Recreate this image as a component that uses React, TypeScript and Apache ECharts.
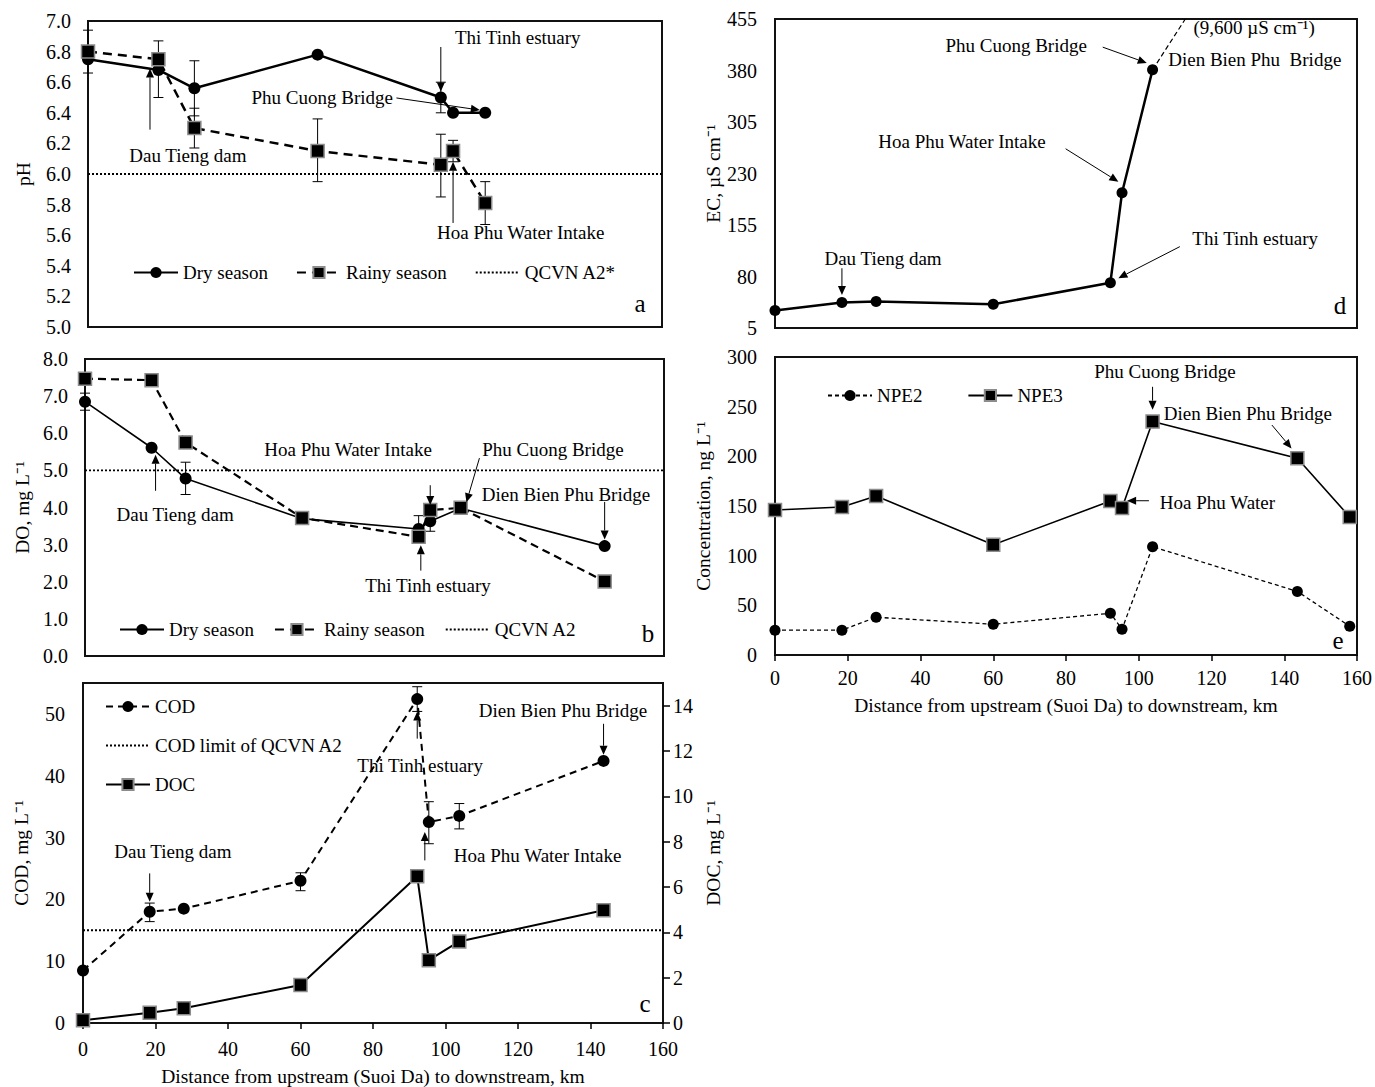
import React, { useEffect, useRef } from "react";
import * as echarts from "echarts";

const FONT = '"Liberation Serif", "Times New Roman", serif';

// ---------- data ----------
const distA = [0, 18.4, 27.8, 60, 92.2, 95.4, 103.8];
const distB = [0, 18.4, 27.8, 60, 92.2, 95.4, 103.8, 143.6];
const distE = [0, 18.4, 27.8, 60, 92.2, 95.4, 103.8, 143.6, 158];

const phDry = [6.75, 6.68, 6.56, 6.78, 6.5, 6.4, 6.4];
const phRainy = [6.8, 6.75, 6.3, 6.15, 6.06, 6.15, 5.81];
const phLimit = 6.0;
const phErr = [
  [0, 6.66, 6.94],
  [18.4, 6.5, 6.87],
  [27.8, 6.38, 6.74],
  [27.8, 6.17, 6.43],
  [60, 5.95, 6.36],
  [92.2, 6.4, 6.6],
  [92.2, 5.85, 6.26],
  [95.4, 6.08, 6.22],
  [103.8, 5.67, 5.95],
];

const doDry = [6.85, 5.61, 4.78, 3.7, 3.42, 3.63, 3.98, 2.96];
const doRainy = [7.47, 7.43, 5.75, 3.72, 3.21, 3.93, 3.99, 2.01];
const doLimit = 5.0;
const doErr = [
  [0, 6.62, 7.08],
  [27.8, 4.35, 5.22],
  [27.8, 5.6, 5.92],
  [60, 3.6, 3.82],
  [92.2, 3.3, 3.78],
  [95.4, 3.36, 3.86],
];

const cod = [8.5, 18.0, 18.5, 23.0, 52.4, 32.5, 33.5, 42.4];
const doc = [0.12, 0.45, 0.65, 1.68, 6.47, 2.77, 3.6, 4.97];
const codLimit = 15;
const codErr = [
  [18.4, 16.4, 19.4],
  [60, 21.4, 24.3],
  [92.2, 50.4, 54.4],
  [95.4, 29.0, 35.8],
  [103.8, 31.4, 35.5],
];

const ec = [30.6, 42, 43.5, 39.5, 71, 202, 381];
const ecExtX = [103.8, 112.8];
const ecExtY = [381, 455];

const npe2 = [25, 25, 38, 31, 42, 26, 109, 64, 29];
const npe3 = [146, 149, 160, 111, 155, 148, 235, 198, 139];

const phTicks = [5.0, 5.2, 5.4, 5.6, 5.8, 6.0, 6.2, 6.4, 6.6, 6.8, 7.0];
const doTicks = [0, 1, 2, 3, 4, 5, 6, 7, 8];
const codTicks = [0, 10, 20, 30, 40, 50];
const docTicks = [0, 2, 4, 6, 8, 10, 12, 14];
const ecTicks = [5, 80, 155, 230, 305, 380, 455];
const npeTicks = [0, 50, 100, 150, 200, 250, 300];

const xTitle = "Distance from upstream (Suoi Da) to downstream, km";

// annotations: [xAxisIndex, yAxisIndex], text anchor in data coords, arrow in data coords
const annotations = [
  { ax: [0, 0], text: "Thi Tinh estuary", at: [95.9, 6.895], align: "left", arrow: [[92.2, 6.83], [92.2, 6.54]] },
  { ax: [0, 0], text: "Phu Cuong Bridge", at: [79.7, 6.503], align: "right", arrow: [[80.6, 6.497], [102.4, 6.418]] },
  { ax: [0, 0], text: "Dau Tieng dam", at: [26.1, 6.12], align: "center", arrow: [[16.2, 6.29], [16.2, 6.69]] },
  { ax: [0, 0], text: "Hoa Phu Water Intake", at: [91.2, 5.62], align: "left", arrow: [[95.4, 5.68], [95.4, 6.08]] },

  { ax: [1, 1], text: "Dau Tieng dam", at: [24.9, 3.8], align: "center", arrow: [[19.5, 4.45], [19.5, 5.42]] },
  { ax: [1, 1], text: "Hoa Phu Water Intake", at: [72.7, 5.55], align: "center", arrow: [[95.4, 4.6], [95.4, 4.07]] },
  { ax: [1, 1], text: "Phu Cuong Bridge", at: [129.3, 5.57], align: "center", arrow: [[109, 5.33], [105.4, 4.14]] },
  { ax: [1, 1], text: "Dien Bien Phu Bridge", at: [132.9, 4.36], align: "center", arrow: [[143.6, 4.15], [143.6, 3.14]] },
  { ax: [1, 1], text: "Thi Tinh estuary", at: [94.8, 1.91], align: "center", arrow: [[92.8, 2.3], [92.8, 2.98]] },

  { ax: [2, 2], text: "Dau Tieng dam", at: [24.8, 27.7], align: "center", arrow: [[18.4, 24.2], [18.4, 19.6]] },
  { ax: [2, 2], text: "Thi Tinh estuary", at: [93, 41.6], align: "center", arrow: [[92.2, 46], [92.2, 50.4]] },
  { ax: [2, 2], text: "Hoa Phu Water Intake", at: [125.4, 27.1], align: "center", arrow: [[94.3, 26.3], [94.3, 30.9]] },
  { ax: [2, 2], text: "Dien Bien Phu Bridge", at: [132.4, 50.5], align: "center", arrow: [[143.6, 48.4], [143.6, 43.4]] },

  { ax: [3, 4], text: "Dau Tieng dam", at: [29.7, 105.5], align: "center", arrow: [[18.4, 92], [18.4, 53]] },
  { ax: [3, 4], text: "Hoa Phu Water Intake", at: [51.4, 275.9], align: "center", arrow: [[79.9, 266], [94.4, 218]] },
  { ax: [3, 4], text: "Phu Cuong Bridge", at: [66.3, 415.7], align: "center", arrow: [[90.1, 414], [102.2, 391]] },
  { ax: [3, 4], text: "(9,600 µS cm⁻¹)", at: [131.7, 441.9], align: "center", arrow: null },
  { ax: [3, 4], text: "Dien Bien Phu  Bridge", at: [131.9, 396.7], align: "center", arrow: null },
  { ax: [3, 4], text: "Thi Tinh estuary", at: [132, 136], align: "center", arrow: [[111.3, 123.5], [94.4, 77.6]] },

  { ax: [4, 5], text: "Phu Cuong Bridge", at: [107.2, 285.9], align: "center", arrow: [[103.8, 270], [103.8, 247]] },
  { ax: [4, 5], text: "Dien Bien Phu Bridge", at: [130, 243.6], align: "center", arrow: [[136.6, 231.5], [142, 208]] },
  { ax: [4, 5], text: "Hoa Phu Water", at: [105.8, 154], align: "left", arrow: [[102.8, 155.3], [96.8, 155.3]] },
];

const panelLetters = [
  { text: "a", x: 640, y: 303 },
  { text: "b", x: 648, y: 633 },
  { text: "c", x: 645, y: 1003 },
  { text: "d", x: 1340, y: 305 },
  { text: "e", x: 1338, y: 640 },
];

// ---------- helpers ----------
const zip = (xs: number[], ys: number[]) => xs.map((x, i) => [x, ys[i]]);
const txt = { color: "#000", fontFamily: FONT, fontSize: 19 };

const hiddenX = (grid: number, max: number) => ({
  type: "value", gridIndex: grid, min: 0, max,
  axisLine: { show: false }, axisTick: { show: false }, axisLabel: { show: false }, splitLine: { show: false },
});
const labeledX = (grid: number, margin: number, nameGap: number) => ({
  type: "value", gridIndex: grid, min: 0, max: 160, interval: 20,
  axisLine: { show: false },
  axisTick: { show: true, inside: false, length: 6, lineStyle: { color: "#000", width: 1.5 } },
  axisLabel: { color: "#000", fontFamily: FONT, fontSize: 20, margin },
  splitLine: { show: false },
  name: xTitle, nameLocation: "middle", nameGap, nameTextStyle: { ...txt, fontSize: 19.5 },
});
const yAx = (grid: number, min: number, max: number, ticks: number[], digits: number, name: string,
  nameGap: number, margin: number, position = "left", showTick = false) => ({
  type: "value", gridIndex: grid, min, max, position,
  axisLine: { show: false },
  axisTick: { show: showTick, inside: false, length: 7, customValues: ticks, lineStyle: { color: "#000", width: 1.5 } },
  axisLabel: {
    color: "#000", fontFamily: FONT, fontSize: 20, margin, customValues: ticks,
    formatter: (v: number) => v.toFixed(digits),
  },
  splitLine: { show: false },
  name, nameLocation: "middle", nameGap, nameRotate: 90, nameTextStyle: { ...txt, fontSize: 19.5 },
});

const errSeries = (data: number[][], xi: number, yi: number) => ({
  type: "custom", xAxisIndex: xi, yAxisIndex: yi, data, z: 1, silent: true,
  encode: { x: 0, y: [1, 2] },
  renderItem: (params: any, api: any) => {
    const x = api.value(0);
    const top = api.coord([x, api.value(2)]);
    const bot = api.coord([x, api.value(1)]);
    const w = 5;
    const st = { stroke: "#000", lineWidth: 1 };
    return {
      type: "group",
      children: [
        { type: "line", shape: { x1: top[0], y1: top[1], x2: bot[0], y2: bot[1] }, style: st },
        { type: "line", shape: { x1: top[0] - w, y1: top[1], x2: top[0] + w, y2: top[1] }, style: st },
        { type: "line", shape: { x1: bot[0] - w, y1: bot[1], x2: bot[0] + w, y2: bot[1] }, style: st },
      ],
    };
  },
});

const circle = (size: number) => ({ symbol: "circle", symbolSize: size, itemStyle: { color: "#000" } });
const square = (size: number) => ({
  symbol: "rect", symbolSize: size, itemStyle: { color: "#000", borderColor: "#8c8c8c", borderWidth: 1.5 },
});
const lineS = (name: string, xi: number, yi: number, data: number[][], width: number, type: any, sym: any) => ({
  type: "line", name, xAxisIndex: xi, yAxisIndex: yi, data, z: 3,
  lineStyle: { color: "#000", width, type }, ...sym,
});
const limitS = (name: string, xi: number, yi: number, xmax: number, v: number) => ({
  type: "line", name, xAxisIndex: xi, yAxisIndex: yi, data: [[0, v], [xmax, v]], symbol: "none", z: 2,
  itemStyle: { color: "rgba(0,0,0,0)", borderWidth: 0 },
  lineStyle: { color: "#000", width: 1.8, type: [2, 2] },
});

const legendBase = {
  itemWidth: 44, itemHeight: 14, textStyle: { ...txt }, selectedMode: false,
};

export default function App() {
  const ref = useRef<HTMLDivElement>(null);

  useEffect(() => {
    if (!ref.current) return;
    const chart = echarts.init(ref.current, undefined, { renderer: "svg" });
    const gridStyle = { show: true, borderColor: "#111", borderWidth: 2, backgroundColor: "transparent" };

    const option: any = {
      animation: false,
      backgroundColor: "#fff",
      textStyle: { fontFamily: FONT },
      grid: [
        { left: 88, top: 21, width: 574, height: 306, ...gridStyle },
        { left: 85, top: 359, width: 579, height: 297, ...gridStyle },
        { left: 83, top: 683, width: 580, height: 341, ...gridStyle },
        { left: 775, top: 19, width: 582, height: 309, ...gridStyle },
        { left: 775, top: 357, width: 582, height: 298, ...gridStyle },
      ],
      xAxis: [
        hiddenX(0, 150),
        hiddenX(1, 160),
        labeledX(2, 16, 43),
        hiddenX(3, 160),
        labeledX(4, 13, 40),
      ],
      yAxis: [
        yAx(0, 5, 7, phTicks, 1, "pH", 55, 17),
        yAx(1, 0, 8, doTicks, 1, "DO, mg L⁻¹", 53, 17),
        yAx(2, 0, 55, codTicks, 0, "COD, mg L⁻¹", 52, 18),
        yAx(2, 0, 15, docTicks, 0, "DOC, mg L⁻¹", 40, 10, "right", true),
        yAx(3, 5, 455, ecTicks, 0, "EC, µS cm⁻¹", 52, 18),
        yAx(4, 0, 300, npeTicks, 0, "Concentration, ng L⁻¹", 62, 18),
      ],
      legend: [
        { ...legendBase, data: ["Dry season", "Rainy season", "QCVN A2*"], left: 128, top: 258, itemGap: 28 },
        { ...legendBase, data: ["Dry season", "Rainy season", "QCVN A2"], left: 114, top: 615, itemGap: 20 },
        { ...legendBase, data: ["COD", "COD limit of QCVN A2", "DOC"], orient: "vertical", left: 100, top: 692, itemGap: 20 },
        { ...legendBase, data: ["NPE2", "NPE3"], left: 822, top: 381, itemGap: 45 },
      ],
      series: [
        // a
        errSeries(phErr, 0, 0),
        lineS("Dry season", 0, 0, zip(distA, phDry), 2.5, "solid", circle(12)),
        lineS("Rainy season", 0, 0, zip(distA, phRainy), 2.5, [9, 6], square(13)),
        limitS("QCVN A2*", 0, 0, 150, phLimit),
        // b
        errSeries(doErr, 1, 1),
        lineS("Dry season", 1, 1, zip(distB, doDry), 1.6, "solid", circle(12)),
        lineS("Rainy season", 1, 1, zip(distB, doRainy), 2.2, [8, 5], square(13)),
        limitS("QCVN A2", 1, 1, 160, doLimit),
        // c
        errSeries(codErr, 2, 2),
        lineS("COD", 2, 2, zip(distB, cod), 2, [7, 5], circle(12)),
        limitS("COD limit of QCVN A2", 2, 2, 160, codLimit),
        lineS("DOC", 2, 3, zip(distB, doc), 2, "solid", square(13)),
        // d
        lineS("EC", 3, 4, zip(distA, ec), 2.5, "solid", circle(11)),
        {
          type: "line", name: "ECext", xAxisIndex: 3, yAxisIndex: 4, data: zip(ecExtX, ecExtY), symbol: "none",
          lineStyle: { color: "#000", width: 1.2, type: [5, 3] }, z: 2,
        },
        // e
        lineS("NPE2", 4, 5, zip(distE, npe2), 1.3, [4, 3], circle(11)),
        lineS("NPE3", 4, 5, zip(distE, npe3), 1.6, "solid", square(13)),
      ],
    };
    chart.setOption(option);

    const g: any[] = [];
    annotations.forEach((a) => {
      const toPx = (p: number[]) => chart.convertToPixel({ xAxisIndex: a.ax[0], yAxisIndex: a.ax[1] } as any, p) as number[];
      const t = toPx(a.at);
      g.push({
        type: "text", x: t[0], y: t[1], z: 10,
        style: { text: a.text, fontFamily: FONT, fontSize: 19, fill: "#000", align: a.align, verticalAlign: "middle" },
      });
      if (a.arrow) {
        const p1 = toPx(a.arrow[0]);
        const p2 = toPx(a.arrow[1]);
        const dx = p2[0] - p1[0], dy = p2[1] - p1[1];
        const len = Math.hypot(dx, dy) || 1;
        const ux = dx / len, uy = dy / len;
        const hl = 9, hw = 4;
        const bx = p2[0] - ux * hl, by = p2[1] - uy * hl;
        g.push({
          type: "line", z: 10,
          shape: { x1: p1[0], y1: p1[1], x2: bx, y2: by },
          style: { stroke: "#000", lineWidth: 1 },
        });
        g.push({
          type: "polygon", z: 10,
          shape: { points: [[p2[0], p2[1]], [bx - uy * hw, by + ux * hw], [bx + uy * hw, by - ux * hw]] },
          style: { fill: "#000" },
        });
      }
    });
    panelLetters.forEach((l) => {
      g.push({
        type: "text", x: l.x, y: l.y, z: 10,
        style: { text: l.text, fontFamily: FONT, fontSize: 25, fill: "#000", align: "center", verticalAlign: "middle" },
      });
    });
    chart.setOption({ graphic: g });

    return () => chart.dispose();
  }, []);

  return (
    <div
      ref={ref}
      style={{ position: "absolute", left: 0, top: 0, width: 1375, height: 1087, background: "#fff" }}
    />
  );
}
